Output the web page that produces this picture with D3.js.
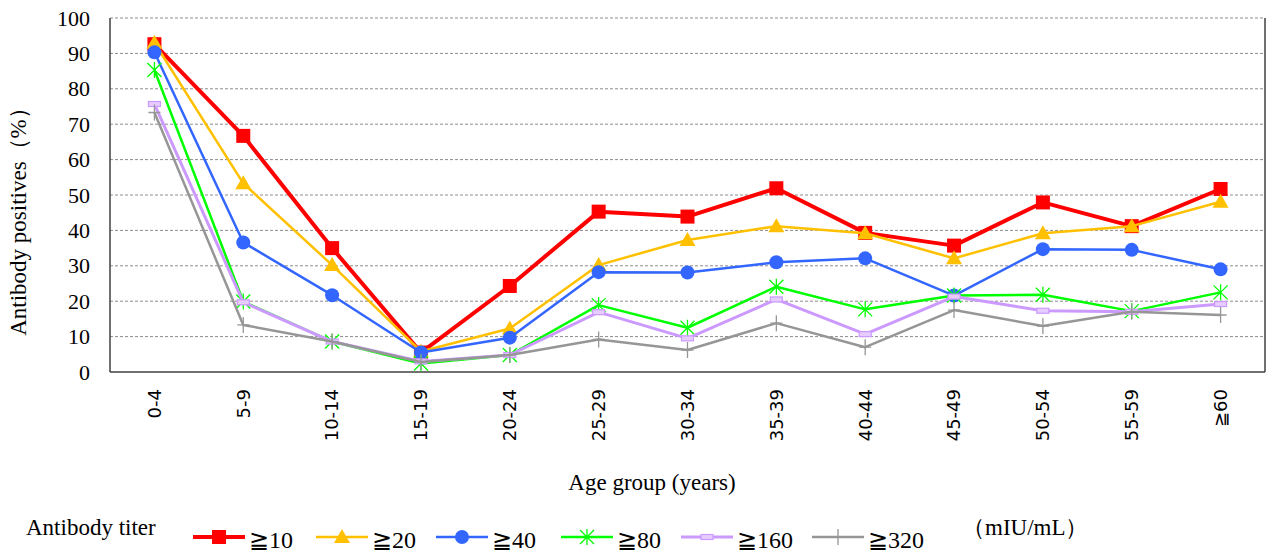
<!DOCTYPE html>
<html><head><meta charset="utf-8">
<script src="https://cdn.jsdelivr.net/npm/d3@7"></script>
<style>body{margin:0;background:#fff}svg{display:block}
.serif{font-family:"Liberation Serif","Tinos","Noto Serif","DejaVu Serif","Times New Roman",serif}
.mono{font-family:"DejaVu Sans",sans-serif}
</style>
</head><body><svg id="c" width="1266" height="554"></svg>
<script>
const categories = ["0-4","5-9","10-14","15-19","20-24","25-29","30-34","35-39","40-44","45-49","50-54","55-59","≧60"];
const s10  = [92.6,66.7,35.0,5.5,24.3,45.3,43.9,51.9,39.3,35.7,47.9,41.2,51.7];
const s20  = [93.0,53.3,30.2,5.8,12.3,30.2,37.3,41.2,39.2,32.1,39.2,41.2,48.1];
const s40  = [90.3,36.6,21.7,5.5,9.7,28.2,28.1,31.0,32.1,21.6,34.7,34.5,29.0];
const s80  = [85.3,19.9,8.6,2.4,4.8,18.9,12.5,24.1,17.7,21.6,21.8,17.2,22.5];
const s160 = [75.7,19.7,8.6,3.0,4.8,16.9,9.5,20.5,10.7,21.3,17.3,17.0,19.2];
const s320 = [73.3,13.3,8.6,2.8,4.8,9.2,6.2,13.8,7.0,17.5,13.0,17.0,16.1];
const seriesNames = ["≧10","≧20","≧40","≧80","≧160","≧320"];
const yTicks = [0,10,20,30,40,50,60,70,80,90,100];

const series = [
  {name:seriesNames[0], values:s10,  color:"#FF0000", width:4,   marker:"square"},
  {name:seriesNames[1], values:s20,  color:"#FFC000", width:2.5, marker:"triangle"},
  {name:seriesNames[2], values:s40,  color:"#3366FF", width:2.5, marker:"circle"},
  {name:seriesNames[3], values:s80,  color:"#00FF00", width:2.5, marker:"star"},
  {name:seriesNames[4], values:s160, color:"#CC99FF", width:3,   marker:"bar"},
  {name:seriesNames[5], values:s320, color:"#969696", width:2.5, marker:"plus"}
];

const svg = d3.select("#c");
const L=110, R=1265, T=18, B=372;
const x = d3.scaleBand().domain(categories).range([L,R]);
const xc = d => x(d)+x.bandwidth()/2;
const y = d3.scaleLinear().domain([0,100]).range([B,T]);

// grid
svg.append("g").selectAll("line").data(yTicks.filter(t=>t>0)).join("line")
  .attr("x1",L).attr("x2",R).attr("y1",d=>y(d)).attr("y2",d=>y(d))
  .attr("stroke","#8c8c8c").attr("stroke-width",1).attr("stroke-dasharray","3,2");

// axes
const yAxis = svg.append("g").attr("transform",`translate(${L},0)`)
  .call(d3.axisLeft(y).tickValues(yTicks).tickSize(0).tickPadding(20));
yAxis.attr("font-family",null).attr("font-size",null);
yAxis.select(".domain").remove();
yAxis.selectAll("text").attr("class","serif").style("font-size","22px").attr("fill","#000");

svg.append("line").attr("x1",L).attr("x2",L).attr("y1",T).attr("y2",B).attr("stroke","#404040").attr("stroke-width",1.5);
svg.append("line").attr("x1",R).attr("x2",R).attr("y1",T).attr("y2",B).attr("stroke","#404040").attr("stroke-width",1.5);
svg.append("line").attr("x1",L).attr("x2",R).attr("y1",B).attr("y2",B).attr("stroke","#404040").attr("stroke-width",1.5);

const xAxis = svg.append("g").attr("transform",`translate(0,${B})`)
  .call(d3.axisBottom(x).tickSize(0).tickPadding(0));
xAxis.attr("font-family",null).attr("font-size",null);
xAxis.select(".domain").remove();
xAxis.selectAll("text")
  .attr("class","mono").style("font-size","18px").attr("fill","#000")
  .attr("text-anchor","end").attr("dy","0.35em")
  .attr("transform","translate(0,17) rotate(-90)");

// titles
svg.append("text").attr("class","serif").attr("x",652).attr("y",490).attr("text-anchor","middle")
  .style("font-size","23px").text("Age group (years)");
svg.append("text").attr("class","serif").attr("transform",`translate(26,216) rotate(-90)`).attr("text-anchor","middle")
  .style("font-size","23px").text("Antibody positives（%）");

function drawMarker(g, type, cx, cy, color){
  if(type==="square"){
    g.append("rect").attr("x",cx-7).attr("y",cy-7).attr("width",14).attr("height",14).attr("fill",color);
  } else if(type==="triangle"){
    g.append("path").attr("d",`M${cx},${cy-8}L${cx+8},${cy+6}L${cx-8},${cy+6}Z`).attr("fill",color);
  } else if(type==="circle"){
    g.append("circle").attr("cx",cx).attr("cy",cy).attr("r",7).attr("fill",color);
  } else if(type==="star"){
    const r=7;
    g.append("path").attr("d",`M${cx-r},${cy-r}L${cx+r},${cy+r}M${cx-r},${cy+r}L${cx+r},${cy-r}M${cx},${cy-r-1}L${cx},${cy+r+1}`)
      .attr("stroke",color).attr("stroke-width",1.3).attr("fill","none");
  } else if(type==="bar"){
    g.append("rect").attr("x",cx-6).attr("y",cy-2.5).attr("width",12).attr("height",5)
      .attr("fill","#E6CCFF").attr("stroke",color).attr("stroke-width",1.2);
  } else if(type==="plus"){
    g.append("path").attr("d",`M${cx-6},${cy}L${cx+6},${cy}M${cx},${cy-8}L${cx},${cy+8}`)
      .attr("stroke",color).attr("stroke-width",1.3).attr("fill","none");
  }
}

const line = d3.line().x((d,i)=>xc(categories[i])).y(d=>y(d));
series.forEach(s=>{
  const g = svg.append("g");
  g.append("path").datum(s.values).attr("d",line).attr("fill","none")
    .attr("stroke",s.color).attr("stroke-width",s.width).attr("stroke-linejoin","round");
  s.values.forEach((v,i)=>drawMarker(g,s.marker,xc(categories[i]),y(v),s.color));
});

// legend
svg.append("text").attr("class","serif").attr("x",26).attr("y",535).style("font-size","23px").text("Antibody titer");
const legX = [193,316,436,561,681,812];
series.forEach((s,i)=>{
  const g = svg.append("g");
  const x0 = legX[i], ly = 537;
  g.append("line").attr("x1",x0).attr("x2",x0+52).attr("y1",ly).attr("y2",ly)
    .attr("stroke",s.color).attr("stroke-width",s.width);
  drawMarker(g,s.marker,x0+26,ly,s.color);
  g.append("text").attr("class","serif").attr("x",x0+56).attr("y",548).style("font-size","24px").text(s.name);
});
svg.append("text").attr("class","serif").attr("x",962).attr("y",535).style("font-size","23px").text("（mIU/mL）");
</script></body></html>
